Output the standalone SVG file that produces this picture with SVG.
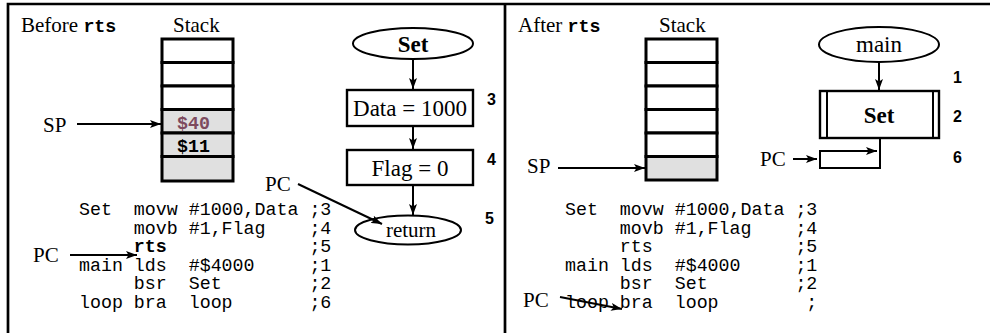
<svg xmlns="http://www.w3.org/2000/svg" width="990" height="333" viewBox="0 0 990 333">
  <style>
    .frame { stroke: #000; stroke-width: 2.7; fill: none; }
    .stk { stroke: #000; stroke-width: 3; fill: #fff; }
    .stk-g { stroke: #000; stroke-width: 3; fill: #e0e0e0; }
    .box { stroke: #000; stroke-width: 2.4; fill: #fff; }
    .line { stroke: #000; stroke-width: 2; fill: none; }
    .arr { stroke: #000; stroke-width: 2; fill: none; marker-end: url(#ah); }
    .serif { font-family: "Liberation Serif", "Times New Roman", serif; font-size: 21px; fill: #000; }
    .fc { font-size: 23px; }
    .bold { font-weight: bold; }
    .mono { font-family: "Liberation Mono", "Courier New", monospace; font-size: 18.3px; fill: #000; white-space: pre; }
    .num { font-family: "Liberation Sans", Arial, sans-serif; font-size: 16px; font-weight: bold; fill: #000; }
  </style>
  <defs>
    <marker id="ah" viewBox="0 0 11 8" refX="11" refY="4" markerWidth="11" markerHeight="8" markerUnits="userSpaceOnUse" orient="auto">
      <path d="M0,0 L11,4 L0,8 L2.5,4 z" fill="#000"/>
    </marker>
  </defs>

  <rect width="990" height="333" fill="#fff"/>

  <!-- table frame -->
  <g id="frame">
    <path class="frame" d="M8,333 V4 H990"/>
    <path class="frame" d="M505,4 V333"/>
  </g>

  <!-- ===== left panel: before rts ===== -->
  <g id="title-before">
    <text class="serif" x="21" y="32">Before <tspan class="mono bold" font-size="20px">rts</tspan></text>
    <text class="serif" x="173" y="32">Stack</text>
  </g>

  <g id="stack-before">
    <rect class="stk" x="162" y="39" width="71" height="23.5"/>
    <rect class="stk" x="162" y="62.5" width="71" height="23.5"/>
    <rect class="stk" x="162" y="86" width="71" height="23.5"/>
    <rect class="stk-g" x="162" y="109.5" width="71" height="23.5"/>
    <rect class="stk-g" x="162" y="133" width="71" height="23.5"/>
    <rect class="stk-g" x="162" y="156.5" width="71" height="24.5"/>
    <text class="mono bold" x="177" y="129" style="fill:#7d4a5e">$40</text>
    <text class="mono bold" x="177" y="152">$11</text>
  </g>

  <g id="sp-before">
    <text class="serif" x="43" y="132">SP</text>
  </g>

  <g id="fc-set">
    <ellipse class="line" cx="413" cy="43.5" rx="60" ry="15.5"/>
    <text class="serif fc bold" x="413" y="51.5" text-anchor="middle">Set</text>
  </g>
  <g id="fc-data">
    <rect class="box" x="347" y="90" width="126" height="36"/>
    <text class="serif fc" x="410" y="116" text-anchor="middle">Data = 1000</text>
    <text class="num" x="487" y="105">3</text>
  </g>
  <g id="fc-flag">
    <rect class="box" x="347" y="150" width="126" height="35"/>
    <text class="serif fc" x="410" y="176" text-anchor="middle">Flag = 0</text>
    <text class="num" x="487" y="165">4</text>
  </g>
  <g id="fc-return">
    <ellipse class="line" cx="408" cy="230" rx="53" ry="14.5"/>
    <text class="serif" x="411" y="237" text-anchor="middle">return</text>
    <text class="num" x="485" y="224">5</text>
  </g>

  <g id="pc-before">
    <text class="serif" x="265" y="191">PC</text>
    <text class="serif" x="33" y="262">PC</text>
  </g>

  <g id="code-before">
    <text class="mono" x="79" y="215">Set  movw #1000,Data ;3</text>
    <text class="mono" x="79" y="233.5">     movb #1,Flag    ;4</text>
    <text class="mono" x="79" y="252">     <tspan class="bold">rts</tspan>             ;5</text>
    <text class="mono" x="79" y="270.5">main lds  #$4000     ;1</text>
    <text class="mono" x="79" y="289">     bsr  Set        ;2</text>
    <text class="mono" x="79" y="307.5">loop bra  loop       ;6</text>
  </g>

  <!-- ===== right panel: after rts ===== -->
  <g id="title-after">
    <text class="serif" x="518" y="32">After <tspan class="mono bold" font-size="20px">rts</tspan></text>
    <text class="serif" x="659" y="32">Stack</text>
  </g>

  <g id="stack-after">
    <rect class="stk" x="646" y="39" width="71" height="23.5"/>
    <rect class="stk" x="646" y="62.5" width="71" height="23.5"/>
    <rect class="stk" x="646" y="86" width="71" height="23.5"/>
    <rect class="stk" x="646" y="109.5" width="71" height="23.5"/>
    <rect class="stk" x="646" y="133" width="71" height="23.5"/>
    <rect class="stk-g" x="646" y="156.5" width="71" height="23.5"/>
  </g>

  <g id="sp-after">
    <text class="serif" x="527" y="173">SP</text>
  </g>

  <g id="fc-main">
    <ellipse class="line" cx="879" cy="44.5" rx="60" ry="17.5"/>
    <text class="serif fc" x="879" y="52" text-anchor="middle">main</text>
    <text class="num" x="953" y="83">1</text>
  </g>
  <g id="fc-set-call">
    <rect class="box" x="820" y="91" width="119" height="47"/>
    <line class="line" x1="827" y1="91" x2="827" y2="138"/>
    <line class="line" x1="933" y1="91" x2="933" y2="138"/>
    <text class="serif fc bold" x="879" y="123" text-anchor="middle">Set</text>
    <text class="num" x="953" y="122">2</text>
  </g>
  <g id="fc-loop">
    <text class="num" x="953" y="163">6</text>
  </g>

  <g id="pc-after">
    <text class="serif" x="760" y="166">PC</text>
    <text class="serif" x="523" y="307">PC</text>
  </g>

  <g id="code-after">
    <text class="mono" x="565" y="215">Set  movw #1000,Data ;3</text>
    <text class="mono" x="565" y="233.5">     movb #1,Flag    ;4</text>
    <text class="mono" x="565" y="252">     rts             ;5</text>
    <text class="mono" x="565" y="270.5">main lds  #$4000     ;1</text>
    <text class="mono" x="565" y="289">     bsr  Set        ;2</text>
    <text class="mono" x="565" y="307.5">loop bra  loop        ;</text>
  </g>

  <!-- connectors -->
  <g id="connectors">
    <line class="arr" x1="77" y1="124" x2="161" y2="124"/>
    <line class="arr" x1="413" y1="59" x2="413" y2="89"/>
    <line class="arr" x1="413" y1="126" x2="413" y2="149"/>
    <line class="arr" x1="413" y1="185" x2="413" y2="215"/>
    <line class="arr" x1="298" y1="184" x2="382" y2="224"/>
    <line class="arr" x1="70" y1="255" x2="137" y2="255"/>

    <line class="arr" x1="558" y1="168" x2="645" y2="168"/>
    <line class="arr" x1="879" y1="62" x2="879" y2="90"/>
    <path class="arr" d="M880,138 V168 H820 V151 H877"/>
    <line class="arr" x1="793" y1="159" x2="817" y2="159"/>
    <line class="arr" x1="560" y1="297" x2="622" y2="309"/>
  </g>
</svg>
